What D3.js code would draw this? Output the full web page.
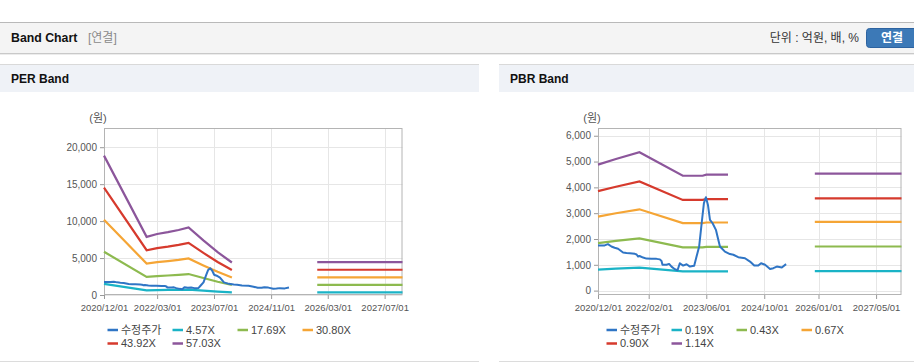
<!DOCTYPE html>
<html lang="ko">
<head>
<meta charset="utf-8">
<title>Band Chart</title>
<script src="https://cdn.jsdelivr.net/npm/d3@7"></script>
<style>
  body { margin: 0; background: #fff; }
  text { font-family: "Liberation Sans", Arial, "Noto Sans CJK KR", sans-serif; }
</style>
</head>
<body>
<script>
// adjusted share price (수정주가), shared by both charts
const priceDates = ["2020-12-01","2021-01-26","2021-02-23","2021-03-24","2021-04-20","2021-05-19","2021-06-30",
  "2021-07-29","2021-08-26","2021-10-07","2021-10-22","2021-11-04","2021-11-16","2021-12-16","2022-01-13",
  "2022-02-24","2022-04-08","2022-05-06","2022-05-20","2022-05-28","2022-07-01","2022-07-23","2022-08-12",
  "2022-09-09","2022-10-02","2022-10-21","2022-11-18","2022-12-17","2023-01-14","2023-02-19","2023-03-11",
  "2023-04-02","2023-04-23","2023-05-12","2023-05-29","2023-06-15","2023-07-02","2023-07-24","2023-08-21",
  "2023-09-10","2023-09-24","2023-11-05","2023-12-17","2024-01-15","2024-02-25","2024-04-22","2024-06-03",
  "2024-07-09","2024-08-12","2024-09-04","2024-10-08","2024-11-19","2024-12-17","2025-01-15","2025-02-26",
  "2025-04-03"];
const priceValues = [1745,1750,1800,1710,1660,1620,1475,
  1455,1450,1425,1400,1320,1340,1280,1240,
  1235,1230,1210,1150,1000,1000,1035,930,
  830,790,1060,970,1020,930,960,1320,
  1710,2610,3390,3620,3320,2740,2610,2355,
  1970,1710,1510,1415,1390,1295,1255,1125,
  970,970,1060,1000,840,870,930,895,
  1025];

// PER band
const perLabels = ["4.57X","17.69X","30.80X","43.92X","57.03X"];
const perBandDates = ["2020-12-01","2021-12-01","2022-03-01","2022-06-01","2022-09-01","2022-11-25","2023-04-01","2023-08-01","2023-12-01"];
const perBands = [
  [1511,631,661,681,705,733,593,465,353],
  [5850,2441,2559,2637,2730,2838,2295,1799,1365],
  [10186,4251,4456,4591,4753,4942,3997,3133,2376],
  [14524,6061,6353,6546,6777,7046,5699,4467,3388],
  [18860,7870,8250,8500,8800,9150,7400,5800,4400]
];
const perFutureDates = ["2025-12-01","2027-12-01"];
const perFutureValues = [356,1377,2398,3419,4440];
const perYTicks = [0,5000,10000,15000,20000];
const perXTicks = ["2020/12/01","2022/03/01","2023/07/01","2024/11/01","2026/03/01","2027/07/01"];

// PBR band
const pbrLabels = ["0.19X","0.43X","0.67X","0.90X","1.14X"];
const pbrBandDates = ["2020-12-01","2021-05-01","2021-11-15","2022-11-15","2023-05-01","2023-06-01","2023-12-01"];
const pbrBands = [
  [813,850,893,742,742,748,748],
  [1841,1924,2022,1679,1679,1694,1694],
  [2868,2997,3150,2615,2615,2639,2639],
  [3853,4026,4232,3513,3513,3545,3545],
  [4880,5100,5360,4450,4450,4490,4490]
];
const pbrFutureDates = ["2025-12-01","2027-12-01"];
const pbrFutureValues = [755,1709,2662,3576,4530];
const pbrYTicks = [0,1000,2000,3000,4000,5000,6000];
const pbrXTicks = ["2020/12/01","2022/02/01","2023/06/01","2024/10/01","2026/01/01","2027/05/01"];

const colors = ["#2f75c5","#1ab3c6","#8dba4f","#f5a535","#d63a2d","#8c569b"];

const parseDay = d3.timeParse("%Y-%m-%d");
const parseTick = d3.timeParse("%Y/%m/%d");

const svg = d3.select("body").append("svg")
  .attr("width", 914).attr("height", 364);

// top header bar
svg.append("rect").attr("x", 0).attr("y", 22).attr("width", 914).attr("height", 1).attr("fill", "#b9b9b9");
svg.append("rect").attr("x", 0).attr("y", 23).attr("width", 914).attr("height", 30).attr("fill", "#f4f4f4");
svg.append("rect").attr("x", 0).attr("y", 53).attr("width", 914).attr("height", 1).attr("fill", "#c9c9c9");
svg.append("rect").attr("x", 0).attr("y", 54).attr("width", 914).attr("height", 1).attr("fill", "#ececec");
svg.append("text").attr("x", 11).attr("y", 38).attr("dy", "0.35em")
  .attr("font-size", 12.3).attr("font-weight", "bold").attr("fill", "#111").text("Band Chart");
svg.append("text").attr("x", 88).attr("y", 38).attr("dy", "0.35em")
  .attr("font-size", 12).attr("fill", "#8a8a8a").text("[연결]");
svg.append("text").attr("x", 859).attr("y", 38).attr("dy", "0.35em").attr("text-anchor", "end")
  .attr("font-size", 12).attr("fill", "#333").text("단위 : 억원, 배, %");
svg.append("rect").attr("x", 866.5).attr("y", 28.5).attr("width", 52).attr("height", 19).attr("rx", 3)
  .attr("fill", "#3c79b7").attr("stroke", "#2d63a0");
svg.append("text").attr("x", 892).attr("y", 38).attr("dy", "0.35em").attr("text-anchor", "middle")
  .attr("font-size", 12).attr("font-weight", "bold").attr("fill", "#fff").text("연결");

function drawBand(cfg) {
  const g = svg.append("g");

  // panel header
  g.append("rect").attr("x", cfg.panelX).attr("y", 64).attr("width", cfg.panelW).attr("height", 1).attr("fill", "#d9d9d9");
  g.append("rect").attr("x", cfg.panelX).attr("y", 65).attr("width", cfg.panelW).attr("height", 27).attr("fill", "#eff2f7");
  g.append("text").attr("x", cfg.panelX + 11).attr("y", 79).attr("dy", "0.35em")
    .attr("font-size", 12).attr("font-weight", "bold").attr("fill", "#111").text(cfg.title);
  g.append("rect").attr("x", cfg.panelX).attr("y", 361).attr("width", cfg.panelW).attr("height", 1).attr("fill", "#dcdcdc");

  const x = d3.scaleTime()
    .domain([parseDay("2020-12-01"), parseDay("2027-12-01")])
    .range([cfg.left, cfg.right]);
  const y = d3.scaleLinear().domain(cfg.yDomain).range([295, 128]);

  // grid
  g.selectAll(".hgrid").data(cfg.yTicks).enter().append("line")
    .attr("x1", cfg.left).attr("x2", cfg.right)
    .attr("y1", d => Math.round(y(d)) + 0.5).attr("y2", d => Math.round(y(d)) + 0.5)
    .attr("stroke", "#e6e6e6");
  g.selectAll(".vgrid").data(cfg.xTicks.slice(1)).enter().append("line")
    .attr("x1", d => Math.round(x(parseTick(d))) + 0.5).attr("x2", d => Math.round(x(parseTick(d))) + 0.5)
    .attr("y1", 128).attr("y2", 295)
    .attr("stroke", "#e6e6e6");

  // axes
  const yAxis = g.append("g").attr("transform", `translate(${cfg.left},0)`)
    .call(d3.axisLeft(y).tickValues(cfg.yTicks).tickFormat(d3.format(",")).tickSize(4).tickPadding(3));
  yAxis.select(".domain").remove();
  yAxis.selectAll("line").attr("stroke", "#999");
  yAxis.selectAll("text").attr("fill", "#555").attr("font-size", 10)
    .style("font-family", '"Liberation Sans", Arial, sans-serif');

  const xAxis = g.append("g").attr("transform", "translate(0,295)")
    .call(d3.axisBottom(x).tickValues(cfg.xTicks.map(parseTick))
      .tickFormat(d3.timeFormat("%Y/%m/%d")).tickSize(4).tickPadding(5));
  xAxis.select(".domain").remove();
  xAxis.selectAll("line").attr("stroke", "#999");
  xAxis.selectAll("text").attr("fill", "#555").attr("font-size", 9.5)
    .style("font-family", '"Liberation Sans", Arial, sans-serif');

  g.append("rect").attr("x", cfg.left + 0.5).attr("y", 128.5)
    .attr("width", cfg.right - cfg.left - 1).attr("height", 295 - 128 - 1)
    .attr("fill", "none").attr("stroke", "#b4b4b4");

  g.append("text").attr("x", cfg.left - 6).attr("y", 118).attr("dy", "0.35em").attr("text-anchor", "middle")
    .attr("font-size", 11).attr("fill", "#555").text("(원)");

  const line = d3.line().x(d => x(d[0])).y(d => y(d[1]));

  // band lines, past and future segments
  cfg.bands.forEach((vals, i) => {
    const pts = cfg.bandDates.map((d, j) => [parseDay(d), vals[j]]);
    g.append("path").attr("d", line(pts))
      .attr("fill", "none").attr("stroke", colors[i + 1]).attr("stroke-width", 2.2);
    const fut = cfg.futureDates.map(d => [parseDay(d), cfg.futureValues[i]]);
    g.append("path").attr("d", line(fut))
      .attr("fill", "none").attr("stroke", colors[i + 1]).attr("stroke-width", 2.2);
  });

  // price line
  const pricePts = priceDates.map((d, j) => [parseDay(d), priceValues[j]]);
  g.append("path").attr("d", line(pricePts))
    .attr("fill", "none").attr("stroke", colors[0]).attr("stroke-width", 2)
    .attr("stroke-linejoin", "round");

  // legend
  const names = ["수정주가"].concat(cfg.labels);
  const items = g.selectAll(".legend").data(names).enter().append("g")
    .attr("transform", (d, i) => `translate(${cfg.legendX + (i % 4) * 65},${330 + Math.floor(i / 4) * 13.5})`);
  items.append("line").attr("x1", 0).attr("x2", 10.5).attr("y1", 0).attr("y2", 0)
    .attr("stroke", (d, i) => colors[i]).attr("stroke-width", 2.5);
  items.append("text").attr("x", 13.5).attr("dy", "0.35em")
    .attr("font-size", 11).attr("fill", "#444").text(d => d);
}

drawBand({
  title: "PER Band", panelX: 0, panelW: 479,
  left: 104, right: 402.5, yDomain: [0, 22600],
  yTicks: perYTicks, xTicks: perXTicks,
  bandDates: perBandDates, bands: perBands,
  futureDates: perFutureDates, futureValues: perFutureValues,
  labels: perLabels, legendX: 107.5
});

drawBand({
  title: "PBR Band", panelX: 499, panelW: 415,
  left: 598, right: 901.5, yDomain: [-170, 6300],
  yTicks: pbrYTicks, xTicks: pbrXTicks,
  bandDates: pbrBandDates, bands: pbrBands,
  futureDates: pbrFutureDates, futureValues: pbrFutureValues,
  labels: pbrLabels, legendX: 606.5
});
</script>
</body>
</html>
